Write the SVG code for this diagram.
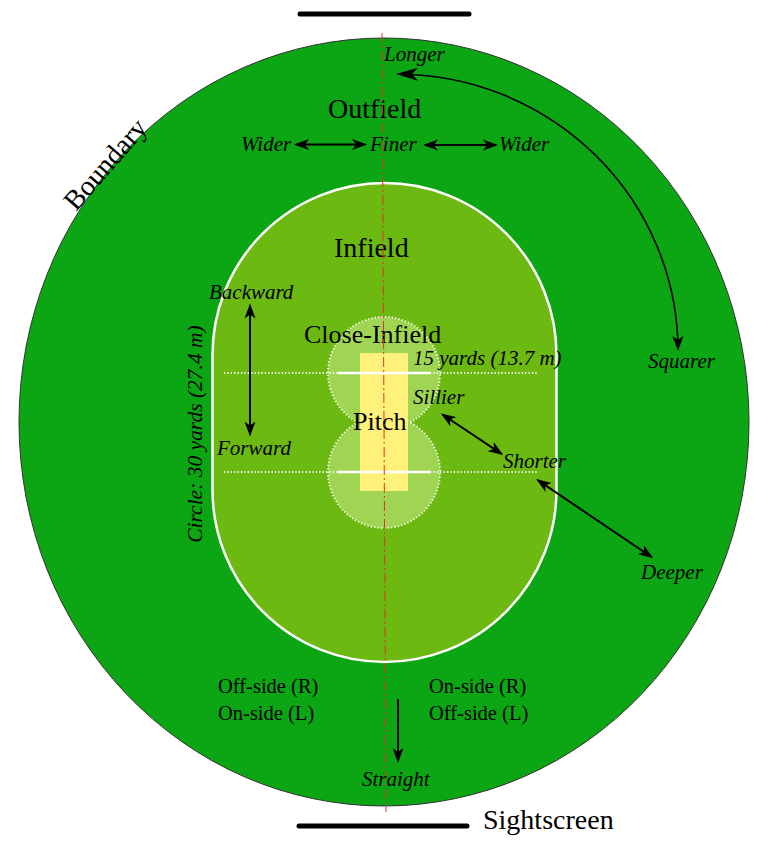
<svg xmlns="http://www.w3.org/2000/svg" width="768" height="845" viewBox="0 0 768 845">
<style>
text{font-family:"Liberation Serif","Times New Roman",serif;fill:#000}
.big{font-size:28px}
.mid{font-size:26px}
.reg{font-size:20.5px}
.it{font-size:21px;font-style:italic}
.arr{stroke:#000;stroke-width:2;fill:none;marker-start:url(#ah);marker-end:url(#ah)}
.arr1{stroke:#000;stroke-width:2;fill:none;marker-end:url(#ah)}
.dots{stroke:#fff;stroke-width:2;fill:none;stroke-dasharray:1.2 2.2}
</style>
<defs>
<marker id="ah" viewBox="-15 -6 17 12" refX="-2" refY="0" markerWidth="17" markerHeight="12" markerUnits="userSpaceOnUse" orient="auto-start-reverse">
<path d="M-15,-5.5 L0,0 L-15,5.5 L-11,0 Z" fill="#000"/>
</marker>
<marker id="ahL" viewBox="-22 -7 24 14" refX="-2" refY="0" markerWidth="24" markerHeight="14" markerUnits="userSpaceOnUse" orient="auto-start-reverse">
<path d="M-22,-6.5 L0,0 L-22,6.5 L-16,0 Z" fill="#000"/>
</marker>
</defs>
<g id="sightscreen-top"><line x1="300" y1="14" x2="469" y2="14" stroke="#000" stroke-width="5" stroke-linecap="round"/></g>
<g id="outfield">
<ellipse cx="384" cy="422" rx="365" ry="384" fill="#0ca513" stroke="#333" stroke-width="1"/>
<text class="big" x="328" y="118">Outfield</text>
</g>
<g id="boundary"><text class="big" transform="translate(76,212) rotate(-49)">Boundary</text></g>
<g id="infield">
<rect x="212.5" y="183" width="344" height="479" rx="172" ry="172" fill="#6cb912" stroke="#fff" stroke-width="2.5"/>
<text class="big" x="334" y="257">Infield</text>
</g>
<g id="close-infield">
<circle cx="384" cy="373" r="56" fill="#a0d553"/>
<circle cx="384" cy="472" r="56" fill="#a0d553"/>
<path class="dots" d="M410.2,422.5 A56,56 0 1 0 357.8,422.5 A56,56 0 1 0 410.2,422.5 Z"/>
<text class="mid" x="304" y="343">Close-Infield</text>
</g>
<g id="pitch">
<rect x="360" y="353" width="48" height="138" fill="#fff27a"/>
<line x1="338" y1="373" x2="430" y2="373" stroke="#fff" stroke-width="2.5"/>
<line x1="338" y1="472" x2="430" y2="472" stroke="#fff" stroke-width="2.5"/>
<text class="mid" x="353" y="430">Pitch</text>
</g>
<g id="creases">
<line class="dots" x1="224" y1="373" x2="338" y2="373"/>
<line class="dots" x1="430" y1="373" x2="538" y2="373"/>
<line class="dots" x1="224" y1="472" x2="338" y2="472"/>
<line class="dots" x1="430" y1="472" x2="538" y2="472"/>
</g>
<g id="centre-line"><line x1="382" y1="33" x2="386" y2="812" stroke="#e8302a" stroke-width="1" stroke-dasharray="10 3 2 3"/></g>
<g id="labels">
<text class="it" x="384" y="61">Longer</text>
<text class="it" x="241" y="151">Wider</text>
<text class="it" x="370" y="151">Finer</text>
<text class="it" x="499" y="151">Wider</text>
<text class="it" x="209" y="299">Backward</text>
<text class="it" x="217" y="455">Forward</text>
<text class="it" x="413" y="365">15 yards (13.7 m)</text>
<text class="it" x="413" y="404">Sillier</text>
<text class="it" x="503" y="468">Shorter</text>
<text class="it" x="641" y="579">Deeper</text>
<text class="it" x="648" y="368">Squarer</text>
<text class="it" x="362" y="786">Straight</text>
<text class="it" text-anchor="middle" transform="translate(202,434) rotate(-90)" style="font-size:21.5px">Circle: 30 yards (27.4 m)</text>
<text class="reg" x="218" y="693">Off-side (R)</text>
<text class="reg" x="218" y="720">On-side (L)</text>
<text class="reg" x="429" y="693">On-side (R)</text>
<text class="reg" x="429" y="720">Off-side (L)</text>
</g>
<g id="sightscreen-bottom">
<line x1="299" y1="826" x2="467" y2="826" stroke="#000" stroke-width="5" stroke-linecap="round"/>
<text class="big" x="483" y="829">Sightscreen</text>
</g>
<g id="connectors">
<path d="M398,74 A282,277 0 0 1 678,349" stroke="#000" stroke-width="1.6" fill="none" marker-start="url(#ahL)" marker-end="url(#ah)"/>
<line class="arr" x1="296" y1="144.5" x2="365" y2="144.5"/>
<line class="arr" x1="425" y1="145" x2="496" y2="145"/>
<line class="arr" x1="250" y1="305.5" x2="250" y2="434.5"/>
<line class="arr" x1="442.5" y1="414.5" x2="501.5" y2="453.8"/>
<line class="arr" x1="537.8" y1="480.2" x2="651.5" y2="557"/>
<line class="arr1" x1="398" y1="699" x2="398" y2="761"/>
</g>
</svg>
